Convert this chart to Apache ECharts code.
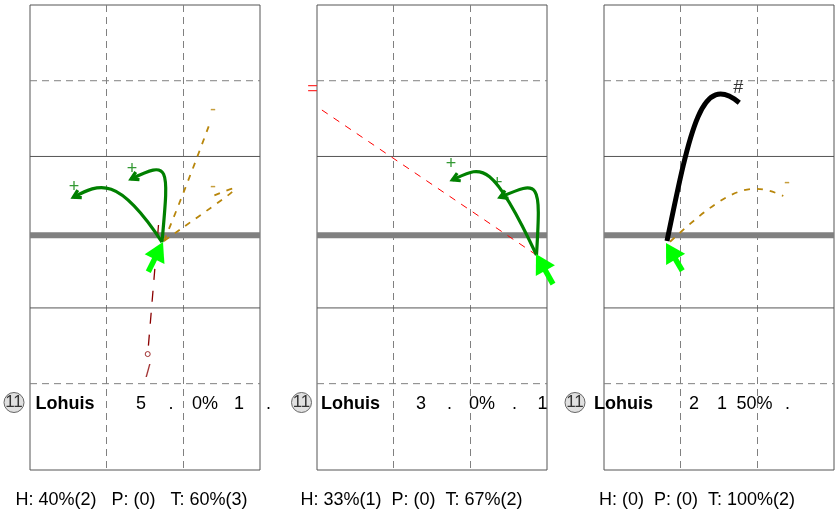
<!DOCTYPE html>
<html><head><meta charset="utf-8">
<script src="https://cdn.jsdelivr.net/npm/echarts@6/dist/echarts.min.js"></script>
<style>html,body{margin:0;padding:0;background:#fff}#c{width:835px;height:510px}</style>
</head><body><div id="c"></div>
<script>
// ---------------- DATA (court metres: x 0..9 across, y = metres from net, + = far side) ----------------
const courtX = [0, 9];
const courtY = [-9.42, 9];
const dashedLinesY = [6, -6];
const solidLinesY = [3, -3];
const netY = [-0.12];

// curved trajectories: [startX, startY, ctrl1X, ctrl1Y, ctrl2X, ctrl2Y, endX, endY]
const p1Green = [
  [5.165, -0.39, 5.439, 2.661, 5.478, 2.859, 3.952, 2.106],
  [5.165, -0.39, 3.443, 2.265, 2.739, 1.948, 1.694, 1.381]
];
const p1Gold = [
  [5.243, -0.35, 5.909, 1.274, 6.535, 2.938, 7.083, 4.444],
  [5.243, -0.35, 7.630, 1.393, 9.000, 2.225, 7.161, 1.433]
];
// straight trajectories: [startX, startY, endX, endY]
const p1DarkRed = [[5.028, 0.284, 4.606, -4.827]];
// set arrows: [tailX, tailY, tipX, tipY]
const p1Set = [[4.629, -1.567, 5.204, -0.39]];
const p1Marks = [[3.991, 2.491, '+'], [1.722, 1.777, '+'], [7.161, 4.840, '-'], [7.161, 1.777, '-'], [4.617, -5.521, '/']];
const p1Dots = [[4.606, -4.827]];

const p2Green = [
  [8.589, -0.905, 6.781, 3.017, 6.417, 2.597, 5.294, 2.067],
  [8.589, -0.905, 8.765, 2.067, 8.726, 2.067, 7.161, 1.381]
];
const p2Red = [[8.589, -0.905, 0.059, 4.931]];
const p2Set = [[9.235, -2.054, 8.570, -0.865]];
const p2Marks = [[5.243, 2.689, '+'], [7.055, 1.936, '+'], [-0.176, 5.672, '=']];

const p3Black = [[2.465, -0.35, 3.404, 4.285, 3.835, 6.346, 5.294, 5.129]];
const p3Gold = [[2.583, -0.378, 4.930, 1.809, 5.713, 2.027, 7.016, 1.433]];
const p3Set = [[3.064, -1.527, 2.426, -0.429]];
const p3Marks = [[5.255, 5.712, '#'], [7.161, 1.960, '-']];

const rowCells = [
  ['11', 'Lohuis', '5', '.', '0%', '1', '.'],
  ['11', 'Lohuis', '3', '.', '0%', '.', '1'],
  ['11', 'Lohuis', '2', '1', '50%', '.']
];
const summaryTexts = [
  'H: 40%(2)   P: (0)   T: 60%(3)',
  'H: 33%(1)  P: (0)  T: 67%(2)',
  'H: (0)  P: (0)  T: 100%(2)'
];

// ---------------- LAYOUT / STYLE ----------------
const GRID_LEFT = [30, 317, 604];
const GRID_TOP = 5, GRID_W = 230, GRID_H = 465;
const ROW_Y = 404, SUM_Y = 500;
const rowCellX = [
  [14, 35.5, 141, 171, 205, 239, 268.5],
  [301.5, 321, 421, 449.5, 482, 514.5, 542.5],
  [575, 594, 694, 722, 754.5, 787.5]
];
const sumX = [131.5, 411.5, 697];
const FONT = "'Liberation Sans', Arial, Helvetica, sans-serif";

const ST = {
  green:   {color: '#008000', width: 3.2, dash: null,    arrow: true},
  gold:    {color: '#B8860B', width: 1.8, dash: [6, 7]},
  red:     {color: '#FF0000', width: 1,   dash: [7, 7]},
  darkred: {color: '#8B0000', width: 1.3, dash: [11, 11]},
  black:   {color: '#000000', width: 5,   dash: null}
};
const MARK_COLOR = {'+': '#008000', '-': '#B8860B', '=': '#FF0000', '#': '#000000', '/': '#8B0000'};

const panels = [
  {curves: [['gold', p1Gold], ['green', p1Green]], straight: [['darkred', p1DarkRed]], set: p1Set, marks: p1Marks, dots: p1Dots},
  {curves: [['green', p2Green]], straight: [['red', p2Red]], set: p2Set, marks: p2Marks, dots: []},
  {curves: [['gold', p3Gold], ['black', p3Black]], straight: [], set: p3Set, marks: p3Marks, dots: []}
];

function sty(st) {
  return {stroke: st.color, lineWidth: st.width, lineDash: st.dash || null, fill: 'none'};
}
function hLine(st) {
  return function (params, api) {
    const y = api.value(0);
    const a = api.coord([courtX[0], y]), b = api.coord([courtX[1], y]);
    return {type: 'line', shape: {x1: a[0], y1: a[1], x2: b[0], y2: b[1]}, style: sty(st)};
  };
}
function curve(st) {
  return function (params, api) {
    const p = [];
    for (let i = 0; i < 8; i += 2) p.push(api.coord([api.value(i), api.value(i + 1)]));
    const children = [{
      type: 'bezierCurve',
      shape: {x1: p[0][0], y1: p[0][1], cpx1: p[1][0], cpy1: p[1][1], cpx2: p[2][0], cpy2: p[2][1], x2: p[3][0], y2: p[3][1]},
      style: sty(st)
    }];
    if (st.arrow) {
      const dx = p[3][0] - p[2][0], dy = p[3][1] - p[2][1];
      const L = Math.hypot(dx, dy), ux = dx / L, uy = dy / L;
      const a = Math.PI / 6, len = 8.5, c = Math.cos(a), s = Math.sin(a);
      const b1 = [p[3][0] - len * (ux * c - uy * s), p[3][1] - len * (uy * c + ux * s)];
      const b2 = [p[3][0] - len * (ux * c + uy * s), p[3][1] - len * (uy * c - ux * s)];
      children.push({type: 'polyline', shape: {points: [b1, p[3], b2]},
        style: {stroke: st.color, lineWidth: st.width, fill: 'none', lineJoin: 'miter'}});
    }
    return {type: 'group', children};
  };
}
function straight(st) {
  return function (params, api) {
    const a = api.coord([api.value(0), api.value(1)]), b = api.coord([api.value(2), api.value(3)]);
    return {type: 'line', shape: {x1: a[0], y1: a[1], x2: b[0], y2: b[1]}, style: sty(st)};
  };
}
function setArrow(params, api) {
  const t = api.coord([api.value(0), api.value(1)]), h = api.coord([api.value(2), api.value(3)]);
  const dx = h[0] - t[0], dy = h[1] - t[1], L = Math.hypot(dx, dy), ux = dx / L, uy = dy / L;
  const headLen = 19, halfW = 11;
  const base = [h[0] - ux * headLen, h[1] - uy * headLen];
  const inner = [h[0] - ux * (headLen - 3), h[1] - uy * (headLen - 3)];
  return {type: 'group', children: [
    {type: 'line', shape: {x1: t[0], y1: t[1], x2: inner[0], y2: inner[1]}, style: {stroke: '#00FF00', lineWidth: 5.5, fill: 'none'}},
    {type: 'polygon', shape: {points: [h, [base[0] - uy * halfW, base[1] + ux * halfW], [base[0] + uy * halfW, base[1] - ux * halfW]]},
      style: {fill: '#00FF00', stroke: 'none'}}
  ]};
}

const grids = [], xAxes = [], yAxes = [], series = [];
panels.forEach((pn, i) => {
  grids.push({left: GRID_LEFT[i], top: GRID_TOP, width: GRID_W, height: GRID_H, show: true,
    borderColor: '#555', borderWidth: 1, backgroundColor: 'transparent', containLabel: false});
  xAxes.push({gridIndex: i, type: 'value', min: courtX[0], max: courtX[1], interval: 3,
    axisLine: {show: false}, axisTick: {show: false}, axisLabel: {show: false},
    splitLine: {show: true, showMinLine: false, showMaxLine: false, lineStyle: {color: '#808080', width: 1, type: [7, 5]}}});
  yAxes.push({gridIndex: i, type: 'value', min: courtY[0], max: courtY[1],
    axisLine: {show: false}, axisTick: {show: false}, axisLabel: {show: false}, splitLine: {show: false}});
  const base = {xAxisIndex: i, yAxisIndex: i, silent: true, animation: false};
  series.push(Object.assign({type: 'custom', z: 1, data: dashedLinesY.map(v => [v]),
    renderItem: hLine({color: '#808080', width: 1, dash: [7, 5]})}, base));
  series.push(Object.assign({type: 'custom', z: 1, data: solidLinesY.map(v => [v]),
    renderItem: hLine({color: '#555', width: 1})}, base));
  series.push(Object.assign({type: 'custom', z: 1, data: netY.map(v => [v]),
    renderItem: hLine({color: '#808080', width: 6})}, base));
  pn.straight.forEach(([k, d]) => series.push(Object.assign({type: 'custom', z: 3, data: d, renderItem: straight(ST[k])}, base)));
  pn.curves.forEach(([k, d]) => series.push(Object.assign({type: 'custom', z: 3, data: d, renderItem: curve(ST[k])}, base)));
  series.push(Object.assign({type: 'custom', z: 4, data: pn.set, renderItem: setArrow}, base));
  if (pn.dots.length) series.push(Object.assign({type: 'scatter', z: 5, symbol: 'circle', symbolSize: 5, clip: false,
    itemStyle: {color: '#fff', borderColor: '#8B0000', borderWidth: 1}, data: pn.dots}, base));
  series.push(Object.assign({type: 'scatter', z: 6, symbolSize: 1, clip: false,
    itemStyle: {color: 'rgba(0,0,0,0)'},
    label: {show: true, position: 'inside', formatter: '{b}', fontSize: 18, fontFamily: FONT},
    data: pn.marks.map(m => ({name: m[2], value: [m[0], m[1]], label: {color: MARK_COLOR[m[2]]}}))}, base));
});

const graphic = [];
rowCells.forEach((cells, i) => {
  cells.forEach((txt, j) => {
    const x = rowCellX[i][j];
    if (j === 0) {
      graphic.push({type: 'circle', shape: {cx: x, cy: ROW_Y - 1.5, r: 10}, style: {fill: '#e0e0e0', stroke: '#666', lineWidth: 1}, z: 10});
      graphic.push({type: 'text', x: x, y: ROW_Y - 1.5, z: 11, style: {text: txt, fill: '#333', fontSize: 17, fontFamily: FONT, align: 'center', verticalAlign: 'middle'}});
    } else if (j === 1) {
      graphic.push({type: 'text', x: x, y: ROW_Y, z: 10, style: {text: txt, fill: '#000', fontSize: 18, fontWeight: 'bold', fontFamily: FONT, align: 'left', verticalAlign: 'middle'}});
    } else {
      graphic.push({type: 'text', x: x, y: ROW_Y, z: 10, style: {text: txt, fill: '#000', fontSize: 18, fontFamily: FONT, align: 'center', verticalAlign: 'middle'}});
    }
  });
});
summaryTexts.forEach((t, i) => {
  graphic.push({type: 'text', x: sumX[i], y: SUM_Y, z: 10, style: {text: t, fill: '#000', fontSize: 18, fontFamily: FONT, align: 'center', verticalAlign: 'middle'}});
});

const chart = echarts.init(document.getElementById('c'), null, {renderer: 'canvas'});
chart.setOption({animation: false, backgroundColor: '#fff', grid: grids, xAxis: xAxes, yAxis: yAxes, series, graphic});
</script></body></html>
